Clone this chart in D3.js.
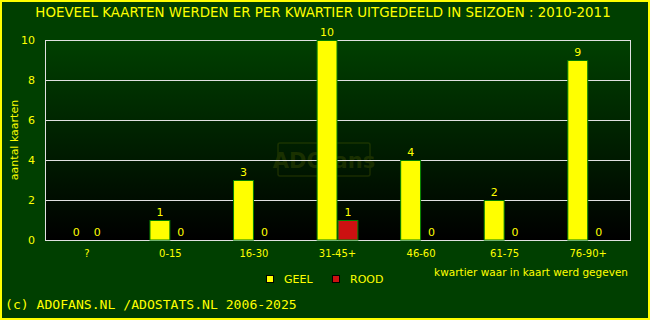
<!DOCTYPE html>
<html>
<head>
<meta charset="utf-8">
<script src="https://cdn.jsdelivr.net/npm/d3@7"></script>
<style>
html, body { margin: 0; padding: 0; background: #003f00; overflow: hidden; }
svg { display: block; }
text { font-family: "DejaVu Sans", sans-serif; fill: #ffff00; }
</style>
</head>
<body>
<div id="main"></div>
<script>
var categories = ["?", "0-15", "16-30", "31-45+", "46-60", "61-75", "76-90+"];
var geel = [0, 1, 3, 10, 4, 2, 9];
var rood = [0, 0, 0, 1, 0, 0, 0];
var yTicks = [0, 2, 4, 6, 8, 10];

var outerWidth = 650;
var outerHeight = 320;

var marginLeft = 45;
var marginTop = 40;
var marginRight = 20;
var marginBottom = 80;

var innerWidth = outerWidth - marginLeft - marginRight;
var innerHeight = outerHeight - marginTop - marginBottom;

var xScale = d3.scaleBand().domain(categories).range([0, innerWidth]);
var yScale = d3.scaleLinear().domain([0, 10]).range([innerHeight, 0]);
var barW = xScale.bandwidth() * 0.25;

var svg = d3.select("#main")
    .append("svg")
    .attr("width", outerWidth)
    .attr("height", outerHeight);

var defs = svg.append("defs");
var grad = defs.append("linearGradient")
    .attr("id", "bg")
    .attr("x1", 0).attr("y1", 0).attr("x2", 0).attr("y2", 1);
grad.append("stop").attr("offset", "0%").attr("stop-color", "#004000");
grad.append("stop").attr("offset", "100%").attr("stop-color", "#000000");

svg.append("rect")
    .attr("x", 1).attr("y", 1)
    .attr("width", outerWidth - 2).attr("height", outerHeight - 2)
    .attr("fill", "#003f00")
    .attr("stroke", "#ffff00")
    .attr("stroke-width", 2);

svg.append("text")
    .attr("x", 323).attr("y", 17)
    .style("text-anchor", "middle")
    .style("font-size", "13.4px")
    .text("HOEVEEL KAARTEN WERDEN ER PER KWARTIER UITGEDEELD IN SEIZOEN : 2010-2011");

var g = svg.append("g")
    .attr("transform", "translate(" + marginLeft + "," + marginTop + ")");

g.append("rect")
    .attr("width", innerWidth).attr("height", innerHeight)
    .attr("fill", "url(#bg)");

// watermark
var wm = g.append("g").attr("opacity", 0.35);
wm.append("rect")
    .attr("x", 233).attr("y", 103).attr("width", 92).attr("height", 33)
    .attr("rx", 2)
    .attr("fill", "none").attr("stroke", "#4a5a00").attr("stroke-width", 1.5);
wm.append("text")
    .attr("x", 279).attr("y", 128)
    .style("text-anchor", "middle")
    .style("font-size", "21px").style("font-weight", "bold")
    .style("fill", "#4a5a00")
    .text("ADOfans");

g.selectAll("line.grid").data(yTicks).enter()
    .append("line")
    .attr("class", "grid")
    .attr("x1", 0).attr("x2", innerWidth)
    .attr("y1", d => yScale(d) + 0.5).attr("y2", d => yScale(d) + 0.5)
    .attr("stroke", "#e0e0e0").attr("stroke-width", 1);

g.append("rect")
    .attr("x", 0.5).attr("y", 0.5)
    .attr("width", innerWidth).attr("height", innerHeight)
    .attr("fill", "none").attr("stroke", "#e0e0e0").attr("stroke-width", 1);

var yAxis = d3.axisLeft(yScale).tickValues(yTicks).tickSize(0).tickPadding(10);
var yAxisG = g.append("g").call(yAxis);
yAxisG.select(".domain").remove();
yAxisG.selectAll("text")
    .style("font-size", "11px")
    .style("font-family", "DejaVu Sans, sans-serif")
    .attr("fill", "#ffff00");

var xAxis = d3.axisBottom(xScale).tickSize(0).tickPadding(10);
var xAxisG = g.append("g")
    .attr("transform", "translate(0," + innerHeight + ")")
    .call(xAxis);
xAxisG.select(".domain").remove();
xAxisG.selectAll("text")
    .style("font-size", "10px")
    .style("font-family", "DejaVu Sans, sans-serif")
    .attr("fill", "#ffff00");

function cx(i) { return xScale(categories[i]) + xScale.bandwidth() / 2; }

g.selectAll("rect.geel").data(geel).enter()
    .append("rect")
    .attr("class", "geel")
    .attr("x", (d, i) => cx(i) - barW + 0.5)
    .attr("y", d => yScale(d) + 0.5)
    .attr("width", barW - 1)
    .attr("height", d => Math.max(0, innerHeight - yScale(d) - 0.5))
    .attr("fill", "#ffff00")
    .attr("stroke", d => d > 0 ? "#008000" : "none");

g.selectAll("rect.rood").data(rood).enter()
    .append("rect")
    .attr("class", "rood")
    .attr("x", (d, i) => cx(i) + 0.5)
    .attr("y", d => yScale(d) + 0.5)
    .attr("width", barW - 1)
    .attr("height", d => Math.max(0, innerHeight - yScale(d) - 0.5))
    .attr("fill", "#cc1111")
    .attr("stroke", d => d > 0 ? "#008000" : "none");

g.selectAll("text.lg").data(geel).enter()
    .append("text")
    .attr("x", (d, i) => cx(i) - barW / 2)
    .attr("y", d => yScale(d) - 4)
    .style("text-anchor", "middle")
    .style("font-size", "11px")
    .text(d => d);

g.selectAll("text.lr").data(rood).enter()
    .append("text")
    .attr("x", (d, i) => cx(i) + barW / 2)
    .attr("y", d => yScale(d) - 4)
    .style("text-anchor", "middle")
    .style("font-size", "11px")
    .text(d => d);

svg.append("text")
    .attr("transform", "translate(18," + (marginTop + innerHeight / 2) + ") rotate(-90)")
    .style("text-anchor", "middle")
    .style("font-size", "11px")
    .text("aantal kaarten");

svg.append("text")
    .attr("x", 628).attr("y", 276)
    .style("text-anchor", "end")
    .style("font-size", "10.5px")
    .text("kwartier waar in kaart werd gegeven");

// legend
var legend = [{ name: "GEEL", color: "#ffff00", x: 266 }, { name: "ROOD", color: "#cc1111", x: 332 }];
var lg = svg.selectAll("g.legend").data(legend).enter()
    .append("g")
    .attr("transform", d => "translate(" + d.x + ",275)");
lg.append("rect")
    .attr("x", 0.5).attr("y", 0.5).attr("width", 7).attr("height", 7)
    .attr("fill", d => d.color).attr("stroke", "#000").attr("stroke-width", 1);
lg.append("text")
    .attr("x", 18).attr("y", 8)
    .style("font-size", "11px")
    .text(d => d.name);

svg.append("text")
    .attr("x", 5).attr("y", 309)
    .style("font-family", "DejaVu Sans Mono, monospace")
    .style("font-size", "13.1px")
    .text("(c) ADOFANS.NL /ADOSTATS.NL 2006-2025");
</script>
</body>
</html>
